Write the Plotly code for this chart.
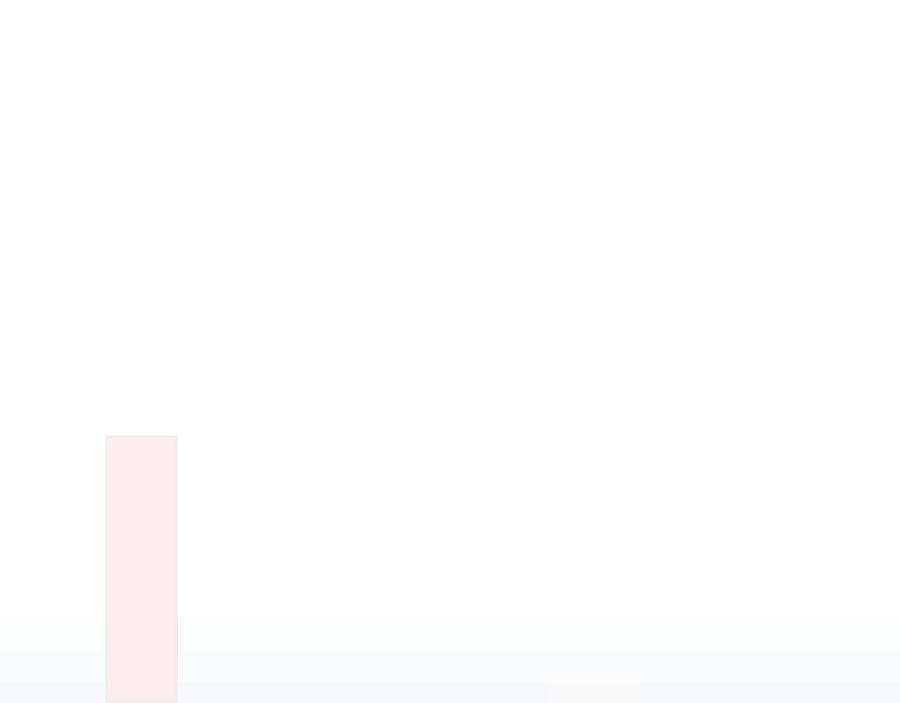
import plotly.graph_objects as go

# Data (the only readable mark in the faded reference is a single light pink bar)
categories = ["A"]
values = [37.8]

bar_color = "#fdebee"
edge_color = "#eeeeee"

fig = go.Figure()
fig.add_trace(go.Bar(
    x=categories,
    y=values,
    width=[1.0],
    marker=dict(color=bar_color, line=dict(color=edge_color, width=2.5)),
    showlegend=False,
    hoverinfo="skip",
))

# very faint bluish haze near the bottom of the picture (decoration)
haze = [(0.0, 0.115, "rgba(243,246,249,0.25)"),
        (0.0, 0.072, "rgba(243,246,249,0.35)"),
        (0.0, 0.03, "rgba(240,244,248,0.35)")]
shapes = []
for y0, y1, col in haze:
    shapes.append(dict(type="rect", xref="paper", yref="paper", x0=0, x1=1,
                       y0=y0, y1=y1, fillcolor=col, line=dict(width=0), layer="below"))
shapes.append(dict(type="rect", xref="paper", yref="paper", x0=0.61, x1=0.71,
                   y0=0.0, y1=0.045, fillcolor="rgba(255,251,240,0.25)",
                   line=dict(width=0), layer="below"))

fig.update_layout(
    width=900, height=703,
    margin=dict(l=0, r=0, t=0, b=0),
    paper_bgcolor="white",
    plot_bgcolor="rgba(0,0,0,0)",
    shapes=shapes,
    xaxis=dict(visible=False, range=[-2.03, 10.83], fixedrange=True),
    yaxis=dict(visible=False, range=[0, 100], fixedrange=True),
    bargap=0,
)

fig.write_html(
    "out.html",
    config={"displayModeBar": False},
    post_script="document.body.style.margin='0';document.body.style.overflow='hidden';",
)
